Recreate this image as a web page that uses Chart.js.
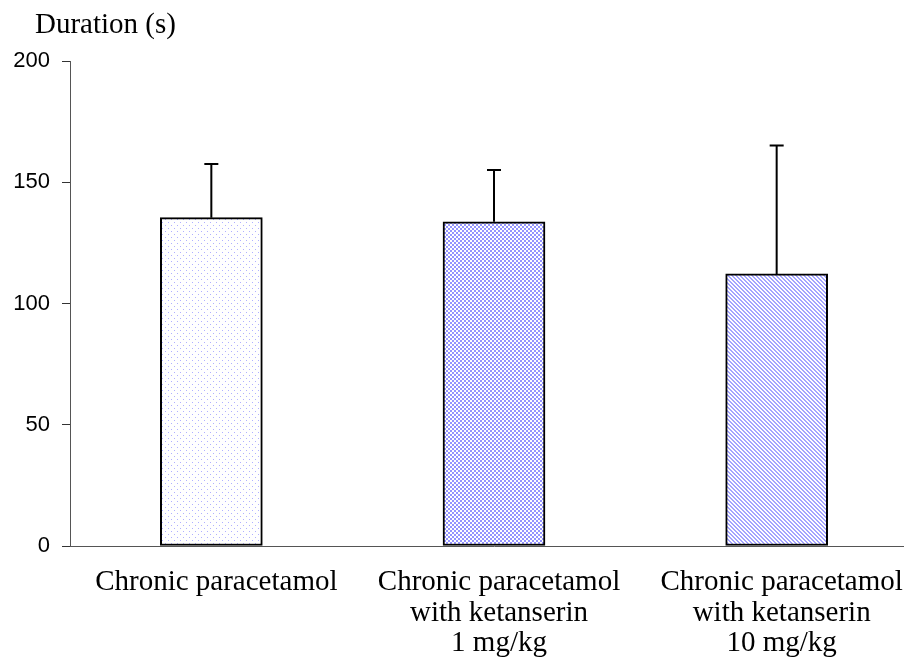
<!DOCTYPE html>
<html>
<head>
<meta charset="utf-8">
<script src="https://cdn.jsdelivr.net/npm/chart.js@4/dist/chart.umd.min.js"></script>
<style>
  html, body { margin: 0; padding: 0; background: #ffffff; }
  #wrap { width: 904px; height: 663px; overflow: hidden; position: relative; }
  canvas { display: block; }
</style>
</head>
<body>
<div id="wrap"><canvas id="chart" width="918" height="663"></canvas></div>
<script>
// Groups (multi-line axis labels)
const categories = [
  ['Chronic paracetamol'],
  ['Chronic paracetamol', 'with ketanserin', '1 mg/kg'],
  ['Chronic paracetamol', 'with ketanserin', '10 mg/kg']
];
// Mean duration (s) and SEM for each group
const meanDuration = [135.4, 133.7, 112.2];
const semDuration = [22.1, 21.4, 53.0];
// Y axis ticks
const yTicks = [0, 50, 100, 150, 200];
const yTitle = 'Duration (s)';

function makePattern(size, painter) {
  const c = document.createElement('canvas');
  c.width = size; c.height = size;
  const g = c.getContext('2d');
  g.fillStyle = '#ffffff';
  g.fillRect(0, 0, size, size);
  painter(g, size);
  return document.getElementById('chart').getContext('2d').createPattern(c, 'repeat');
}

// sparse dots
const dotFill = makePattern(6, (g) => {
  g.fillStyle = '#b0b0ff';
  g.fillRect(0, 0, 1, 1);
  g.fillRect(3, 3, 1, 1);
});
// small checkerboard
const checkFill = makePattern(4, (g) => {
  g.fillStyle = '#9494ff';
  g.fillRect(0, 0, 2, 2);
  g.fillRect(2, 2, 2, 2);
});
// diagonal stripes running down to the right
const stripeFill = makePattern(4, (g, s) => {
  g.fillStyle = '#a4a4ff';
  for (let y = 0; y < s; y++) {
    for (let x = 0; x < s; x++) {
      const d = ((x - y) % s + s) % s;
      if (d === 0 || d === 1) g.fillRect(x, y, 1, 1);
    }
  }
});

// upper SEM whiskers
const errorBars = {
  id: 'errorBars',
  afterDatasetsDraw(chart) {
    const ctx = chart.ctx;
    const yScale = chart.scales.y;
    const meta = chart.getDatasetMeta(0);
    ctx.save();
    ctx.strokeStyle = '#000000';
    ctx.lineWidth = 2;
    meta.data.forEach((bar, i) => {
      const top = yScale.getPixelForValue(meanDuration[i] + semDuration[i]);
      const base = bar.y;
      ctx.beginPath();
      ctx.moveTo(bar.x, base);
      ctx.lineTo(bar.x, top);
      ctx.moveTo(bar.x - 7, top);
      ctx.lineTo(bar.x + 7, top);
      ctx.stroke();
    });
    ctx.restore();
  }
};

// axis title above the y axis
const axisTitle = {
  id: 'axisTitle',
  afterDraw(chart) {
    const ctx = chart.ctx;
    ctx.save();
    ctx.fillStyle = '#000000';
    ctx.font = '29px "Liberation Serif", "Times New Roman", serif';
    ctx.textAlign = 'left';
    ctx.textBaseline = 'alphabetic';
    ctx.fillText(yTitle, chart.chartArea.left - 35, chart.chartArea.top - 28);
    ctx.restore();
  }
};

new Chart(document.getElementById('chart'), {
  type: 'bar',
  data: {
    labels: categories,
    datasets: [{
      data: meanDuration,
      backgroundColor: [dotFill, checkFill, stripeFill],
      borderColor: '#000000',
      borderWidth: 2,
      borderSkipped: false,
      barThickness: 102
    }]
  },
  options: {
    responsive: false,
    animation: false,
    devicePixelRatio: 1,
    layout: { padding: { top: 61, right: 0, bottom: 0, left: 0 } },
    plugins: {
      legend: { display: false },
      tooltip: { enabled: false }
    },
    scales: {
      x: {
        grid: { display: false },
        border: { display: true, color: '#555555', width: 1 },
        ticks: {
          color: '#000000',
          padding: 13,
          labelOffset: 5,
          maxRotation: 0,
          autoSkip: false,
          font: { family: '"Liberation Serif", "Times New Roman", serif', size: 29, lineHeight: 1.06 }
        },
        afterFit(scale) { scale.height = 117; }
      },
      y: {
        min: 0,
        max: 200,
        afterBuildTicks(scale) { scale.ticks = yTicks.map(v => ({ value: v })); },
        grid: {
          display: true,
          drawOnChartArea: false,
          drawTicks: true,
          tickLength: 8,
          color: '#333333',
          lineWidth: 1
        },
        border: { display: true, color: '#555555', width: 1 },
        ticks: {
          color: '#000000',
          padding: 12,
          font: { family: '"Liberation Sans", Arial, sans-serif', size: 22 }
        },
        afterFit(scale) { scale.width = 70; }
      }
    }
  },
  plugins: [errorBars, axisTitle]
});
</script>
</body>
</html>
